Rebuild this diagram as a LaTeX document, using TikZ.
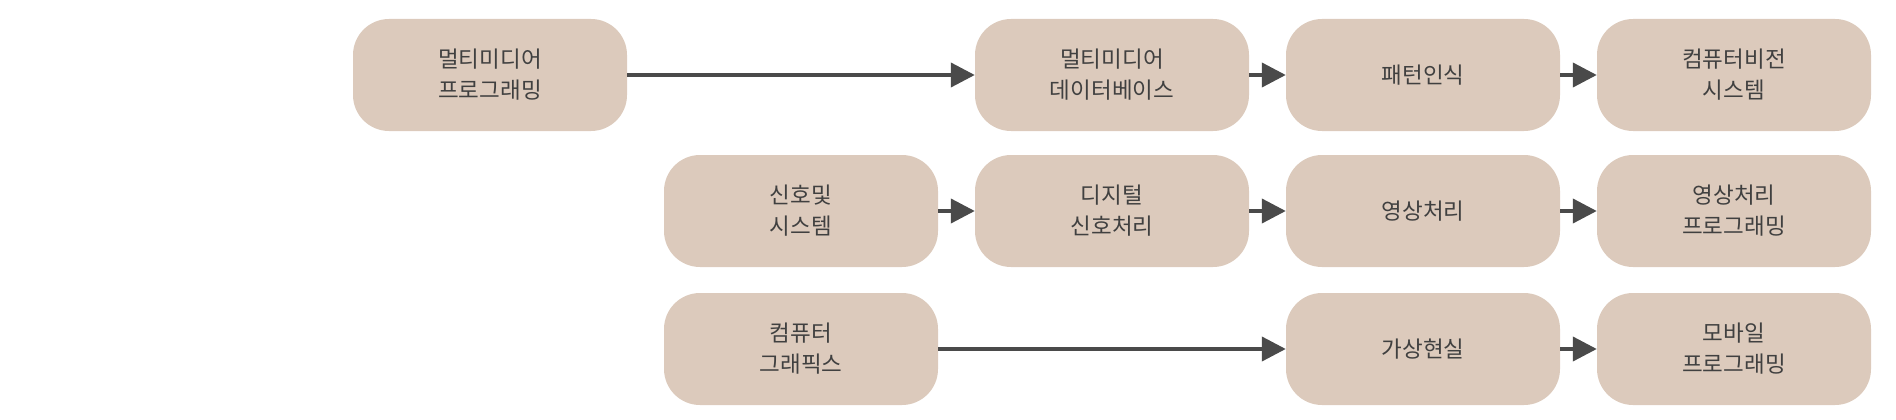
\documentclass[tikz,border=0pt]{standalone}
\usepackage{fontspec}
\setmainfont{Noto Sans CJK KR}
\usetikzlibrary{arrows.meta}
\definecolor{boxfill}{HTML}{DCCABC}
\definecolor{txt}{HTML}{404040}
\definecolor{arr}{HTML}{4A4A4A}
\begin{document}
\begin{tikzpicture}[x=1pt,y=-1pt,
  box/.style={rectangle, rounded corners=36pt, fill=boxfill, minimum width=274pt, minimum height=112pt, text=txt, font=\fontsize{22.5}{31}\selectfont, align=center, inner sep=0pt},
  conn/.style={draw=arr, line width=4pt, -{Triangle[length=24pt,width=24pt]}}]
\useasboundingbox (0,0) rectangle (1896,420);
% row 1
\node[box] (mmp) at (490,75) {멀티미디어\\프로그래밍};
\node[box] (mmdb) at (1112,75) {멀티미디어\\데이터베이스};
\node[box] (pr) at (1423,75) {패턴인식};
\node[box] (cvs) at (1734,75) {컴퓨터비전\\시스템};
% row 2
\node[box] (ss) at (801,211) {신호및\\시스템};
\node[box] (dsp) at (1112,211) {디지털\\신호처리};
\node[box] (ip) at (1423,211) {영상처리};
\node[box] (ipp) at (1734,211) {영상처리\\프로그래밍};
% row 3
\node[box] (cg) at (801,349) {컴퓨터\\그래픽스};
\node[box] (vr) at (1423,349) {가상현실};
\node[box] (mp) at (1734,349) {모바일\\프로그래밍};
% connectors
\draw[conn] (mmp) -- (mmdb);
\draw[conn] (mmdb) -- (pr);
\draw[conn] (pr) -- (cvs);
\draw[conn] (ss) -- (dsp);
\draw[conn] (dsp) -- (ip);
\draw[conn] (ip) -- (ipp);
\draw[conn] (cg) -- (vr);
\draw[conn] (vr) -- (mp);
\end{tikzpicture}
\end{document}
